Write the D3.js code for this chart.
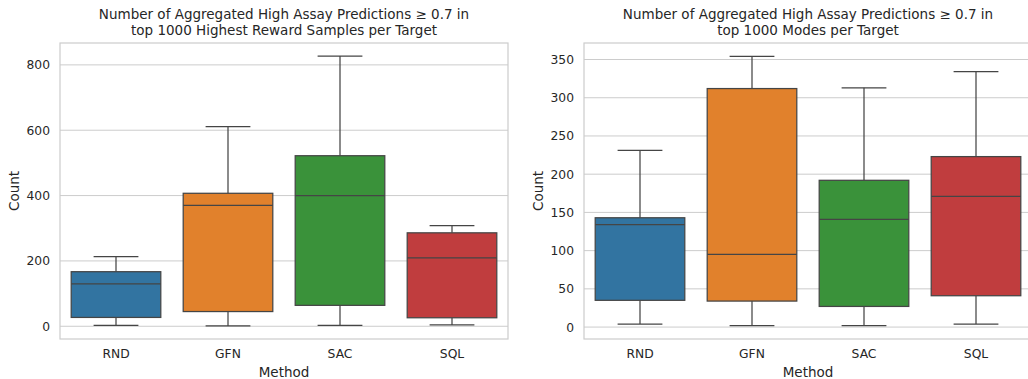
<!DOCTYPE html>
<html>
<head>
<meta charset="utf-8">
<script src="https://cdn.jsdelivr.net/npm/d3@7"></script>
<style>
  body { margin: 0; background: #fff; }
  svg { display: block; font-family: "DejaVu Sans", sans-serif; }
</style>
</head>
<body>
<svg id="chart" width="1028" height="379"></svg>
<script>
// methods shown on the x axis
const methods = ["RND", "GFN", "SAC", "SQL"];
const colors = ["#3274a1", "#e1812c", "#3a923a", "#c03d3e"];

// box stats: [low whisker, q1, median, q3, high whisker]
const rewardStats = [
  [3, 27, 130, 167, 213],
  [1, 45, 370, 407, 611],
  [3, 64, 400, 522, 827],
  [4, 26, 209, 286, 308]
];
const modeStats = [
  [4, 35, 134, 143, 231],
  [2, 34, 95, 312, 354],
  [2, 27, 141, 192, 313],
  [4, 41, 171, 223, 334]
];
const rewardTicks = [0, 200, 400, 600, 800];
const modeTicks = [0, 50, 100, 150, 200, 250, 300, 350];

const panels = [
  {
    title: ["Number of Aggregated High Assay Predictions \u2265 0.7 in", "top 1000 Highest Reward Samples per Target"],
    stats: rewardStats, ticks: rewardTicks, domain: [-39, 867], left: 60
  },
  {
    title: ["Number of Aggregated High Assay Predictions \u2265 0.7 in", "top 1000 Modes per Target"],
    stats: modeStats, ticks: modeTicks, domain: [-15.6, 371.6], left: 584
  }
];

const svg = d3.select("#chart");
const plotTop = 43, plotBottom = 339, plotW = 448;
const textColor = "#262626";
const gridColor = "#cccccc";
const lineColor = "#454545";
const tickSize = "12.3px", labelSize = "13.5px";

panels.forEach(p => {
  const g = svg.append("g").attr("transform", `translate(${p.left},0)`);
  const x = d3.scaleBand().domain(methods).range([0, plotW]);
  const y = d3.scaleLinear().domain(p.domain).range([plotBottom, plotTop]);

  // grid
  g.selectAll("line.grid").data(p.ticks).join("line")
    .attr("class", "grid")
    .attr("x1", 0).attr("x2", plotW)
    .attr("y1", d => y(d)).attr("y2", d => y(d))
    .attr("stroke", gridColor).attr("stroke-width", 1);

  // frame
  g.append("rect")
    .attr("x", 0).attr("y", plotTop)
    .attr("width", plotW).attr("height", plotBottom - plotTop)
    .attr("fill", "none").attr("stroke", gridColor).attr("stroke-width", 1.2);

  // y axis
  const yAxis = d3.axisLeft(y).tickValues(p.ticks).tickSize(0).tickPadding(10);
  const ya = g.append("g").call(yAxis);
  ya.select(".domain").remove();
  ya.selectAll("text").attr("fill", textColor).style("font-size", tickSize)
    .style("font-family", "DejaVu Sans, sans-serif");

  // x axis
  const xAxis = d3.axisBottom(x).tickSize(0).tickPadding(10);
  const xa = g.append("g").attr("transform", `translate(0,${plotBottom})`).call(xAxis);
  xa.select(".domain").remove();
  xa.selectAll("text").attr("fill", textColor).style("font-size", tickSize)
    .style("font-family", "DejaVu Sans, sans-serif");

  // boxes
  const bw = x.bandwidth() * 0.8;
  const boxes = g.selectAll("g.box").data(p.stats).join("g")
    .attr("class", "box")
    .attr("transform", (d, i) => `translate(${x(methods[i]) + x.bandwidth() / 2},0)`);

  boxes.append("line")
    .attr("x1", 0).attr("x2", 0)
    .attr("y1", d => y(d[0])).attr("y2", d => y(d[1]))
    .attr("stroke", lineColor).attr("stroke-width", 1.25);
  boxes.append("line")
    .attr("x1", 0).attr("x2", 0)
    .attr("y1", d => y(d[3])).attr("y2", d => y(d[4]))
    .attr("stroke", lineColor).attr("stroke-width", 1.25);
  boxes.selectAll("line.cap").data(d => [d[0], d[4]]).join("line")
    .attr("class", "cap")
    .attr("x1", -bw / 4).attr("x2", bw / 4)
    .attr("y1", d => y(d)).attr("y2", d => y(d))
    .attr("stroke", lineColor).attr("stroke-width", 1.25);
  boxes.append("rect")
    .attr("x", -bw / 2).attr("width", bw)
    .attr("y", d => y(d[3])).attr("height", d => y(d[1]) - y(d[3]))
    .attr("fill", (d, i) => colors[i])
    .attr("stroke", lineColor).attr("stroke-width", 1.25);
  boxes.append("line")
    .attr("x1", -bw / 2).attr("x2", bw / 2)
    .attr("y1", d => y(d[2])).attr("y2", d => y(d[2]))
    .attr("stroke", lineColor).attr("stroke-width", 1.25);

  // title
  g.append("text")
    .attr("x", plotW / 2).attr("y", 19)
    .attr("text-anchor", "middle").attr("fill", textColor)
    .style("font-size", labelSize)
    .selectAll("tspan").data(p.title).join("tspan")
    .attr("x", plotW / 2).attr("dy", (d, i) => i ? 16 : 0)
    .text(d => d);

  // axis labels
  g.append("text")
    .attr("x", plotW / 2).attr("y", 377)
    .attr("text-anchor", "middle").attr("fill", textColor)
    .style("font-size", labelSize).text("Method");
  g.append("text")
    .attr("transform", `translate(-41,${(plotTop + plotBottom) / 2}) rotate(-90)`)
    .attr("text-anchor", "middle").attr("fill", textColor)
    .style("font-size", labelSize).text("Count");
});
</script>
</body>
</html>
